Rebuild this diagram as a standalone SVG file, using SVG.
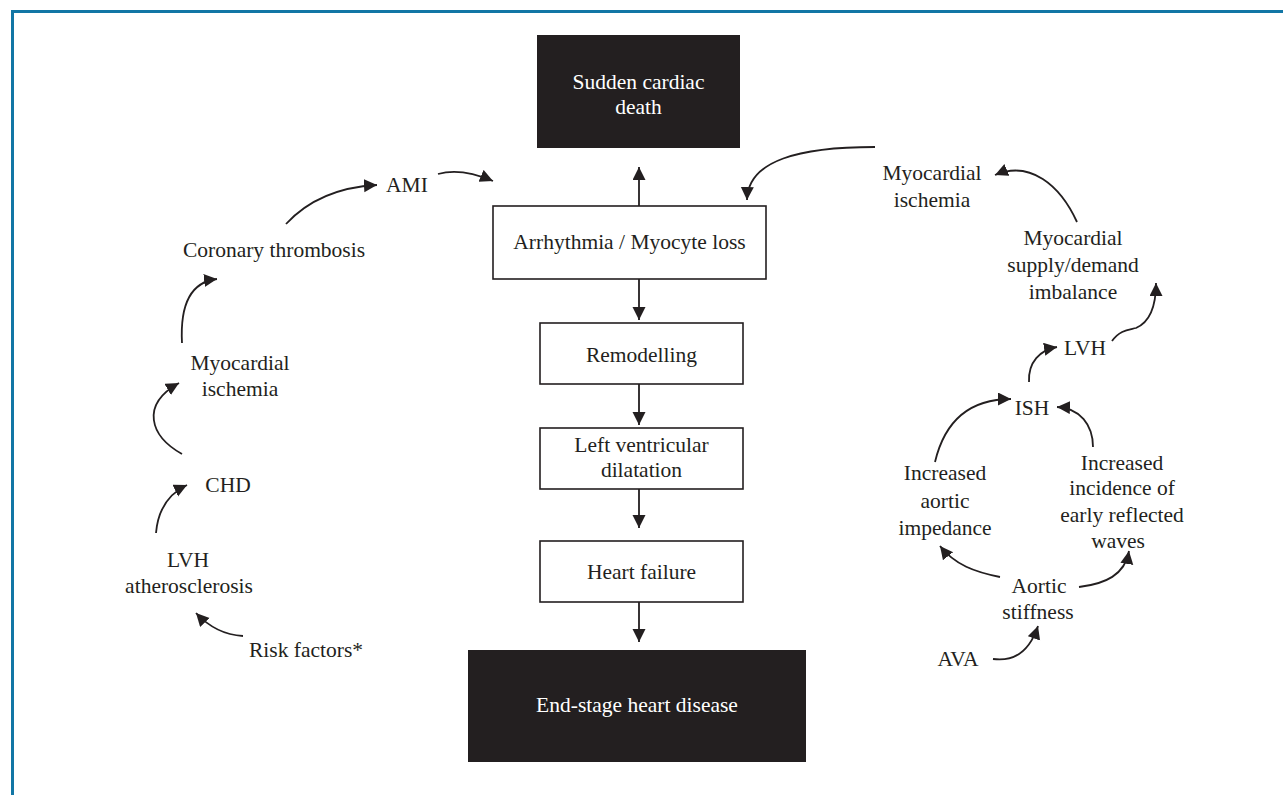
<svg xmlns="http://www.w3.org/2000/svg" width="1283" height="795" viewBox="0 0 1283 795">
<defs>
<style>
.t{font-family:"Liberation Serif","Times New Roman",serif;font-size:21.5px;fill:#231f20;text-anchor:middle}
.w{fill:#ffffff}
.box{fill:#ffffff;stroke:#231f20;stroke-width:1.6}
.dark{fill:#231f20;stroke:none}
.c{fill:none;stroke:#231f20;stroke-width:1.8;marker-end:url(#ah)}
</style>
<marker id="ah" markerUnits="userSpaceOnUse" markerWidth="14" markerHeight="14" refX="13" refY="6.5" orient="auto" viewBox="0 0 14 14">
<path d="M0,0 L13,6.5 L0,13 z" fill="#231f20"/>
</marker>
</defs>
<rect width="1283" height="795" fill="#ffffff"/>
<g id="frame" fill="none" stroke="#1276a5" stroke-width="3">
<line x1="11" y1="11.5" x2="1283" y2="11.5"/>
<line x1="12.5" y1="10" x2="12.5" y2="795"/>
</g>
<g id="connectors">
<line class="c" x1="639" y1="206" x2="639" y2="167"/>
<line class="c" x1="639" y1="279" x2="639" y2="320"/>
<line class="c" x1="639" y1="384" x2="639" y2="425"/>
<line class="c" x1="639" y1="489" x2="639" y2="528"/>
<line class="c" x1="639" y1="602" x2="639" y2="642"/>
<path class="c" d="M243,636 C225,635 210,628 196,613"/>
<path class="c" d="M156,533 C158,510 168,494 187,485"/>
<path class="c" d="M182,454 C150,436 140,405 179,383"/>
<path class="c" d="M182,343 C180,305 190,282 217,279"/>
<path class="c" d="M286,224 C310,198 340,187 377,185"/>
<path class="c" d="M438,174 C455,169 472,172 493,181"/>
<path class="c" d="M875,147 C800,147 748,160 747,200"/>
<path class="c" d="M1077,222 C1060,185 1030,160 995,175"/>
<path class="c" d="M1112,341 C1120,330 1128,330 1136,328 C1150,322 1156,305 1156,283"/>
<path class="c" d="M1029,382 C1028,362 1040,350 1057,347"/>
<path class="c" d="M935,462 C945,420 970,399 1011,399"/>
<path class="c" d="M1093,447 C1093,425 1080,408 1057,407"/>
<path class="c" d="M1000,577 C975,572 955,565 940,546"/>
<path class="c" d="M1079,587 C1105,584 1125,575 1129,551"/>
<path class="c" d="M993,659 C1015,662 1030,650 1038,626"/>
</g>
<g id="sudden-cardiac-death">
<rect class="dark" x="537" y="35" width="203" height="113"/>
<text class="t w" x="638.5" y="89">Sudden cardiac</text>
<text class="t w" x="638.5" y="114">death</text>
</g>
<g id="arrhythmia">
<rect class="box" x="493" y="206" width="273" height="73"/>
<text class="t" x="629.5" y="249">Arrhythmia / Myocyte loss</text>
</g>
<g id="remodelling">
<rect class="box" x="540" y="323" width="203" height="61"/>
<text class="t" x="641.5" y="362">Remodelling</text>
</g>
<g id="lv-dilatation">
<rect class="box" x="540" y="428" width="203" height="61"/>
<text class="t" x="641.5" y="452">Left ventricular</text>
<text class="t" x="641.5" y="477">dilatation</text>
</g>
<g id="heart-failure">
<rect class="box" x="540" y="541" width="203" height="61"/>
<text class="t" x="641.5" y="579">Heart failure</text>
</g>
<g id="end-stage">
<rect class="dark" x="468" y="650" width="338" height="112"/>
<text class="t w" x="637" y="712">End-stage heart disease</text>
</g>
<g id="risk-factors"><text class="t" x="306" y="657">Risk factors*</text></g>
<g id="lvh-atherosclerosis">
<text class="t" x="188" y="567">LVH</text>
<text class="t" x="189" y="593">atherosclerosis</text>
</g>
<g id="chd"><text class="t" x="228" y="492">CHD</text></g>
<g id="myocardial-ischemia-left">
<text class="t" x="240" y="370">Myocardial</text>
<text class="t" x="240" y="396">ischemia</text>
</g>
<g id="coronary-thrombosis"><text class="t" x="274" y="257">Coronary thrombosis</text></g>
<g id="ami"><text class="t" x="407" y="192">AMI</text></g>
<g id="myocardial-ischemia-right">
<text class="t" x="932" y="180">Myocardial</text>
<text class="t" x="932" y="207">ischemia</text>
</g>
<g id="supply-demand">
<text class="t" x="1073" y="245">Myocardial</text>
<text class="t" x="1073" y="272">supply/demand</text>
<text class="t" x="1073" y="299">imbalance</text>
</g>
<g id="lvh-right"><text class="t" x="1085" y="355">LVH</text></g>
<g id="ish"><text class="t" x="1032" y="415">ISH</text></g>
<g id="aortic-impedance">
<text class="t" x="945" y="480">Increased</text>
<text class="t" x="945" y="508">aortic</text>
<text class="t" x="945" y="535">impedance</text>
</g>
<g id="reflected-waves">
<text class="t" x="1122" y="470">Increased</text>
<text class="t" x="1122" y="495">incidence of</text>
<text class="t" x="1122" y="522">early reflected</text>
<text class="t" x="1118" y="548">waves</text>
</g>
<g id="aortic-stiffness">
<text class="t" x="1039" y="593">Aortic</text>
<text class="t" x="1038" y="619">stiffness</text>
</g>
<g id="ava"><text class="t" x="958" y="666">AVA</text></g>
</svg>
